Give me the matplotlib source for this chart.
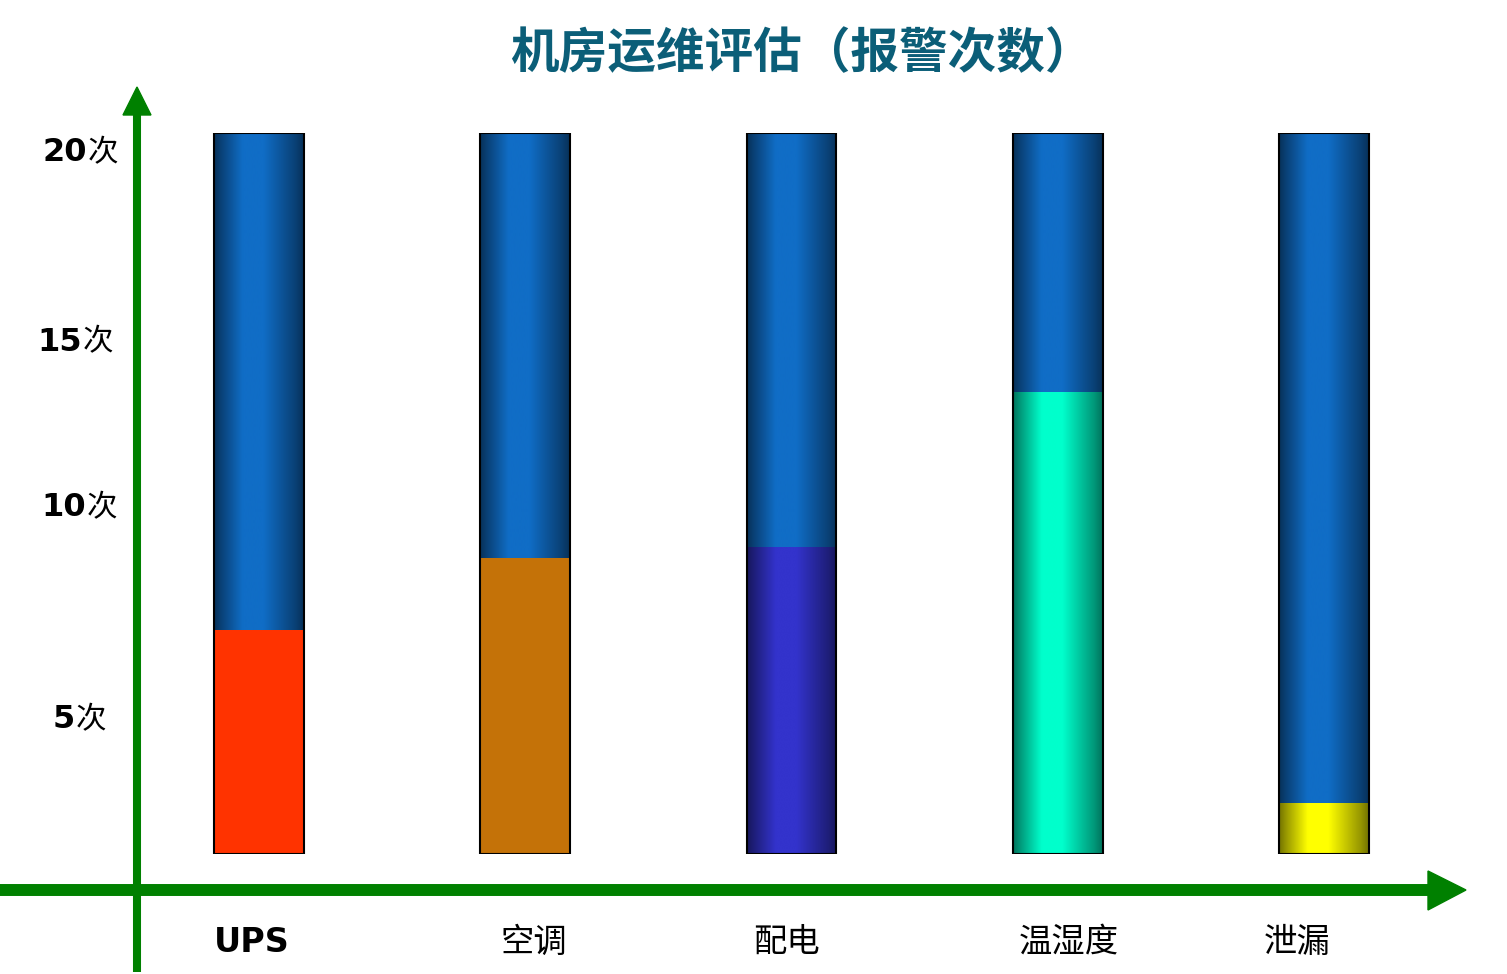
import numpy as np
import matplotlib
matplotlib.use("Agg")
import matplotlib.pyplot as plt
from matplotlib.colors import to_rgb
from matplotlib.patches import Polygon

# data
categories = ["UPS", "空调", "配电", "温湿度", "泄漏"]
alarm_counts = [6.2, 8.2, 8.5, 12.8, 1.4]
max_count = 20
bar_colors = ["#ff3300", "#c47208", "#3333cc", "#00ffcc", "#ffff00"]
bar_gradient = [False, False, True, True, True]
tube_color = "#106dc6"
ytick_nums = ["20", "15", "10", "5"]
ytick_pos = [19.45, 14.2, 9.6, 3.72]      # where the labels sit on the slide
title = "机房运维评估（报警次数）"

W, H = 1507, 974
fig = plt.figure(figsize=(W / 100, H / 100), dpi=100)
fig.patch.set_facecolor("white")

# main axes: y=0 at px 854, y=20 at px 133
ax = fig.add_axes([0, (H - 854) / H, 1, (854 - 133) / H])
ax.set_axis_off()
xpos = np.arange(len(categories))
bw = 0.338


def grad(color, edge=0.45):
    t = np.linspace(0, 1, 256)
    f = np.interp(t, [0, 0.08, 0.32, 0.55, 0.9, 1], [edge, 0.6, 1, 1, 0.6, edge])
    return f[None, :, None] * np.array(to_rgb(color))[None, None, :]


def paint(patch, color, z):
    x0 = patch.get_x()
    ax.imshow(grad(color), extent=(x0, x0 + patch.get_width(), patch.get_y(),
                                    patch.get_y() + patch.get_height()),
              aspect="auto", interpolation="bilinear", zorder=z)


tubes = ax.bar(xpos, [max_count] * len(categories), bw, facecolor="none",
               edgecolor="black", linewidth=1.5, zorder=4)
for p in tubes:
    paint(p, tube_color, 1)

fills = ax.bar(xpos, alarm_counts, bw, color=bar_colors, linewidth=0, zorder=2)
for p, c, g in zip(fills, bar_colors, bar_gradient):
    if g:
        paint(p, c, 3)

ax.set_xlim((0 - 791.5) / 266.1 + 2, (W - 791.5) / 266.1 + 2)
ax.set_ylim(0, max_count)

# overlay in pixel units for the axis arrows and texts
ov = fig.add_axes([0, 0, 1, 1])
ov.set_xlim(0, W)
ov.set_ylim(H, 0)
ov.set_axis_off()
ov.patch.set_alpha(0)

green = "#008000"
ov.plot([137, 137], [972, 112], color=green, lw=5.8, solid_capstyle="butt")
ov.add_patch(Polygon([(123, 115), (151, 115), (137, 87)], closed=True, color=green))
ov.plot([0, 1430], [890, 890], color=green, lw=8.6, solid_capstyle="butt")
ov.add_patch(Polygon([(1428, 871), (1428, 910), (1466, 890)], closed=True, color=green))

ov.text(802, 54, title, ha="center", va="center", fontsize=35, fontweight="bold",
        color="#0b5e78", family=["Noto Sans CJK SC", "DejaVu Sans"])

# y labels: bold digits + 次
ylab_x = [87, 82, 86, 75]
for num, yv, xx in zip(ytick_nums, ytick_pos, ylab_x):
    ypx = 854 - yv * (854 - 133) / max_count
    ov.text(xx, ypx, num, ha="right", va="center", fontsize=23, fontweight="bold",
            family="DejaVu Sans", color="black")
    ov.text(xx + 1, ypx, "次", ha="left", va="center", fontsize=22,
            family="Noto Sans CJK SC", color="black")

# category labels
lab_shift = [-0.03, 0.03, -0.02, 0.04, -0.1]
for i, (cat, s) in enumerate(zip(categories, lab_shift)):
    xpx = 792 + 266.1 * (i + s - 2)
    if cat == "UPS":
        ov.text(xpx, 942, cat, ha="center", va="center", fontsize=24,
                fontweight="bold", family="DejaVu Sans", color="black")
    else:
        ov.text(xpx, 942, cat, ha="center", va="center", fontsize=24,
                family="Noto Sans CJK SC", color="black")

fig.savefig("out.png", dpi=100, facecolor="white")
